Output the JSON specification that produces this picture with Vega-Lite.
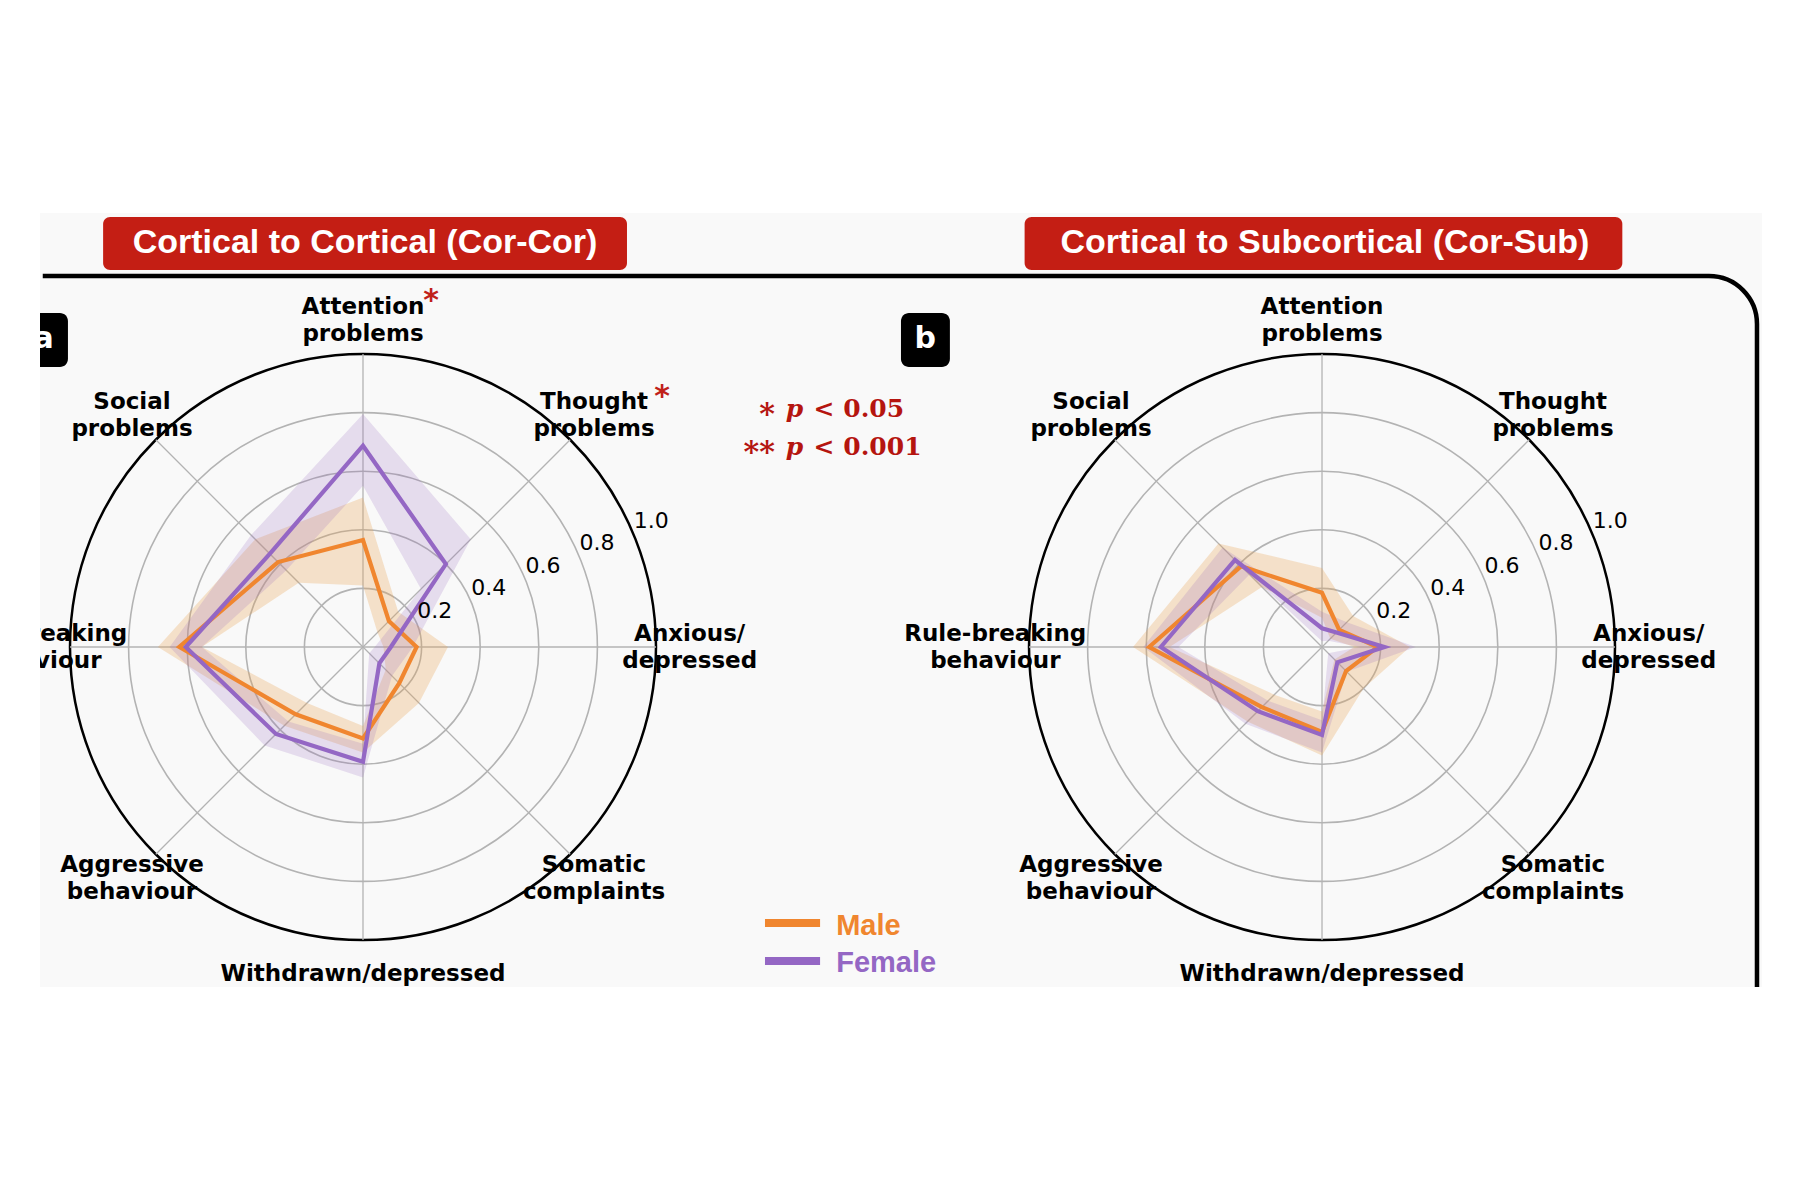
{
  "$schema": "https://vega.github.io/schema/vega-lite/v6.json",
  "description": "Radar charts of CBCL syndrome scales, male vs female, Cor-Cor and Cor-Sub",
  "background": "white",
  "padding": {"left": 40, "top": 0, "right": 0, "bottom": 10},
  "autosize": {"type": "pad"},
  "spacing": 0,
  "bounds": "flush",
  "datasets": {
    "corcor": [
      {"sex": "Male", "axis": "Anxious/depressed", "value": 0.183, "lo": 0.07, "hi": 0.29},
      {"sex": "Male", "axis": "Thought problems", "value": 0.125, "lo": 0.07, "hi": 0.17},
      {"sex": "Male", "axis": "Attention problems", "value": 0.365, "lo": 0.21, "hi": 0.51},
      {"sex": "Male", "axis": "Social problems", "value": 0.41, "lo": 0.31, "hi": 0.52},
      {"sex": "Male", "axis": "Rule-breaking behaviour", "value": 0.627, "lo": 0.55, "hi": 0.7},
      {"sex": "Male", "axis": "Aggressive behaviour", "value": 0.325, "lo": 0.27, "hi": 0.38},
      {"sex": "Male", "axis": "Withdrawn/depressed", "value": 0.312, "lo": 0.27, "hi": 0.36},
      {"sex": "Male", "axis": "Somatic complaints", "value": 0.175, "lo": 0.11, "hi": 0.27},
      {"sex": "Female", "axis": "Anxious/depressed", "value": 0.095, "lo": 0.04, "hi": 0.17},
      {"sex": "Female", "axis": "Thought problems", "value": 0.4, "lo": 0.28, "hi": 0.52},
      {"sex": "Female", "axis": "Attention problems", "value": 0.687, "lo": 0.55, "hi": 0.795},
      {"sex": "Female", "axis": "Social problems", "value": 0.45, "lo": 0.37, "hi": 0.54},
      {"sex": "Female", "axis": "Rule-breaking behaviour", "value": 0.605, "lo": 0.55, "hi": 0.66},
      {"sex": "Female", "axis": "Aggressive behaviour", "value": 0.42, "lo": 0.36, "hi": 0.475},
      {"sex": "Female", "axis": "Withdrawn/depressed", "value": 0.392, "lo": 0.33, "hi": 0.445},
      {"sex": "Female", "axis": "Somatic complaints", "value": 0.079, "lo": 0.03, "hi": 0.14}
    ],
    "corsub": [
      {"sex": "Male", "axis": "Anxious/depressed", "value": 0.19, "lo": 0.11, "hi": 0.3},
      {"sex": "Male", "axis": "Thought problems", "value": 0.083, "lo": 0.04, "hi": 0.15},
      {"sex": "Male", "axis": "Attention problems", "value": 0.185, "lo": 0.1, "hi": 0.27},
      {"sex": "Male", "axis": "Social problems", "value": 0.39, "lo": 0.29, "hi": 0.5},
      {"sex": "Male", "axis": "Rule-breaking behaviour", "value": 0.59, "lo": 0.52, "hi": 0.645},
      {"sex": "Male", "axis": "Aggressive behaviour", "value": 0.29, "lo": 0.23, "hi": 0.36},
      {"sex": "Male", "axis": "Withdrawn/depressed", "value": 0.29, "lo": 0.22, "hi": 0.37},
      {"sex": "Male", "axis": "Somatic complaints", "value": 0.116, "lo": 0.06, "hi": 0.2},
      {"sex": "Female", "axis": "Anxious/depressed", "value": 0.213, "lo": 0.13, "hi": 0.32},
      {"sex": "Female", "axis": "Thought problems", "value": 0.07, "lo": 0.03, "hi": 0.12},
      {"sex": "Female", "axis": "Attention problems", "value": 0.064, "lo": 0.02, "hi": 0.12},
      {"sex": "Female", "axis": "Social problems", "value": 0.42, "lo": 0.35, "hi": 0.48},
      {"sex": "Female", "axis": "Rule-breaking behaviour", "value": 0.55, "lo": 0.49, "hi": 0.61},
      {"sex": "Female", "axis": "Aggressive behaviour", "value": 0.31, "lo": 0.26, "hi": 0.37},
      {"sex": "Female", "axis": "Withdrawn/depressed", "value": 0.3, "lo": 0.25, "hi": 0.36},
      {"sex": "Female", "axis": "Somatic complaints", "value": 0.074, "lo": 0.03, "hi": 0.12}
    ],
    "axes": [
      {"axis": "Anxious/depressed", "label": "Anxious/\ndepressed"},
      {"axis": "Thought problems", "label": "Thought\nproblems"},
      {"axis": "Attention problems", "label": "Attention\nproblems"},
      {"axis": "Social problems", "label": "Social\nproblems"},
      {"axis": "Rule-breaking behaviour", "label": "Rule-breaking\nbehaviour"},
      {"axis": "Aggressive behaviour", "label": "Aggressive\nbehaviour"},
      {"axis": "Withdrawn/depressed", "label": "Withdrawn/depressed"},
      {"axis": "Somatic complaints", "label": "Somatic\ncomplaints"}
    ],
    "sig": [
      {"axis": "Attention problems", "stars": "*"},
      {"axis": "Thought problems", "stars": "*"}
    ],
    "rings": [
      {"r": 0.2, "label": "0.2"},
      {"r": 0.4, "label": "0.4"},
      {"r": 0.6, "label": "0.6"},
      {"r": 0.8, "label": "0.8"},
      {"r": 1.0, "label": "1.0"}
    ],
    "notes": [
      {"id": "titleL", "text": "Cortical to Cortical (Cor-Cor)"},
      {"id": "titleR", "text": "Cortical to Subcortical (Cor-Sub)"},
      {"id": "panelL", "text": "a"},
      {"id": "panelR", "text": "b"},
      {"id": "stars", "text": "*\n**"},
      {"id": "p", "text": "p\np"},
      {"id": "thr", "text": "< 0.05\n< 0.001"},
      {"id": "Male", "text": "Male"},
      {"id": "Female", "text": "Female"}
    ]
  },
  "hconcat": [
    {
      "width": 860,
      "height": 987,
      "layer": [
        {
          "data": {"name": "notes"},
          "transform": [{"filter": "datum.id == 'titleL'"}],
          "mark": {"type": "rect", "fill": "#f9f9f9"},
          "encoding": {
            "x": {"datum": -1.1024, "type": "quantitative", "scale": {"domain": [-1.1024, 1.8328], "nice": false, "zero": false}, "axis": null},
            "x2": {"datum": 4.775},
            "y": {"datum": 1.481, "type": "quantitative", "scale": {"domain": [-1.1604, 2.2082], "nice": false, "zero": false}, "axis": null},
            "y2": {"datum": -1.1604}
          }
        },
        {
          "data": {"name": "notes"},
          "transform": [{"filter": "datum.id == 'titleL'"}],
          "mark": {"type": "rule", "color": "black", "strokeWidth": 4.5},
          "encoding": {
            "x": {"datum": -1.093, "type": "quantitative", "scale": {"domain": [-1.1024, 1.8328], "nice": false, "zero": false}, "axis": null},
            "x2": {"datum": 1.8328},
            "y": {"datum": 1.266, "type": "quantitative", "scale": {"domain": [-1.1604, 2.2082], "nice": false, "zero": false}, "axis": null}
          }
        },
        {
          "data": {"name": "notes"},
          "transform": [{"filter": "datum.id == 'titleL'"}],
          "mark": {"type": "rect", "fill": "#c41e14", "cornerRadius": 7},
          "encoding": {
            "x": {"datum": -0.887, "type": "quantitative", "scale": {"domain": [-1.1024, 1.8328], "nice": false, "zero": false}, "axis": null},
            "x2": {"datum": 0.901},
            "y": {"datum": 1.468, "type": "quantitative", "scale": {"domain": [-1.1604, 2.2082], "nice": false, "zero": false}, "axis": null},
            "y2": {"datum": 1.287}
          }
        },
        {
          "data": {"name": "notes"},
          "transform": [{"filter": "datum.id == 'titleL'"}],
          "mark": {"type": "text", "font": "Liberation Sans", "fontWeight": "bold", "fontSize": 34, "color": "white", "align": "center", "baseline": "middle"},
          "encoding": {
            "x": {"datum": 0.007, "type": "quantitative", "scale": {"domain": [-1.1024, 1.8328], "nice": false, "zero": false}, "axis": null},
            "y": {"datum": 1.38, "type": "quantitative", "scale": {"domain": [-1.1604, 2.2082], "nice": false, "zero": false}, "axis": null},
            "text": {"field": "text"}
          }
        },
        {
          "data": {"name": "notes"},
          "transform": [{"filter": "datum.id == 'panelL'"}],
          "mark": {"type": "rect", "fill": "black", "cornerRadius": 8, "clip": true},
          "encoding": {
            "x": {"datum": -1.174, "type": "quantitative", "scale": {"domain": [-1.1024, 1.8328], "nice": false, "zero": false}, "axis": null},
            "x2": {"datum": -1.007},
            "y": {"datum": 1.14, "type": "quantitative", "scale": {"domain": [-1.1604, 2.2082], "nice": false, "zero": false}, "axis": null},
            "y2": {"datum": 0.956}
          }
        },
        {
          "data": {"name": "notes"},
          "transform": [{"filter": "datum.id == 'panelL'"}],
          "mark": {"type": "text", "font": "DejaVu Sans", "fontWeight": "bold", "fontSize": 30, "color": "white", "align": "center", "baseline": "middle", "clip": true},
          "encoding": {
            "x": {"datum": -1.09, "type": "quantitative", "scale": {"domain": [-1.1024, 1.8328], "nice": false, "zero": false}, "axis": null},
            "y": {"datum": 1.05, "type": "quantitative", "scale": {"domain": [-1.1604, 2.2082], "nice": false, "zero": false}, "axis": null},
            "text": {"field": "text"}
          }
        },
        {
          "data": {"name": "axes"},
          "transform": [
            {"calculate": "indexof(['Anxious/depressed', 'Thought problems', 'Attention problems', 'Social problems', 'Rule-breaking behaviour', 'Aggressive behaviour', 'Withdrawn/depressed', 'Somatic complaints'], datum.axis)", "as": "i"},
            {"calculate": "1.115 * cos(datum.i * PI / 4)", "as": "px"},
            {"calculate": "1.115 * sin(datum.i * PI / 4)", "as": "py"},
            {"filter": "datum.axis != 'Withdrawn/depressed'"}
          ],
          "mark": {"type": "text", "font": "DejaVu Sans", "fontWeight": "bold", "fontSize": 23, "lineBreak": "\n", "lineHeight": 27, "align": "center", "baseline": "middle", "color": "black", "dy": -13.5, "clip": true},
          "encoding": {
            "x": {"field": "px", "type": "quantitative", "scale": {"domain": [-1.1024, 1.8328], "nice": false, "zero": false}, "axis": null},
            "y": {"field": "py", "type": "quantitative", "scale": {"domain": [-1.1604, 2.2082], "nice": false, "zero": false}, "axis": null},
            "text": {"field": "label"}
          }
        },
        {
          "data": {"name": "axes"},
          "transform": [
            {"calculate": "indexof(['Anxious/depressed', 'Thought problems', 'Attention problems', 'Social problems', 'Rule-breaking behaviour', 'Aggressive behaviour', 'Withdrawn/depressed', 'Somatic complaints'], datum.axis)", "as": "i"},
            {"calculate": "1.115 * cos(datum.i * PI / 4)", "as": "px"},
            {"calculate": "1.115 * sin(datum.i * PI / 4)", "as": "py"},
            {"filter": "datum.axis == 'Withdrawn/depressed'"}
          ],
          "mark": {"type": "text", "font": "DejaVu Sans", "fontWeight": "bold", "fontSize": 23, "align": "center", "baseline": "middle", "color": "black"},
          "encoding": {
            "x": {"field": "px", "type": "quantitative", "scale": {"domain": [-1.1024, 1.8328], "nice": false, "zero": false}, "axis": null},
            "y": {"field": "py", "type": "quantitative", "scale": {"domain": [-1.1604, 2.2082], "nice": false, "zero": false}, "axis": null},
            "text": {"field": "label"}
          }
        },
        {
          "data": {"name": "sig"},
          "transform": [
            {"calculate": "indexof(['Anxious/depressed', 'Thought problems', 'Attention problems', 'Social problems', 'Rule-breaking behaviour', 'Aggressive behaviour', 'Withdrawn/depressed', 'Somatic complaints'], datum.axis)", "as": "i"},
            {"calculate": "1.115 * cos(datum.i * PI / 4)", "as": "px"},
            {"calculate": "1.115 * sin(datum.i * PI / 4)", "as": "py"}
          ],
          "mark": {"type": "text", "font": "DejaVu Sans", "fontWeight": "bold", "fontSize": 30, "align": "center", "baseline": "middle", "color": "#c0201a", "dx": 68, "dy": -19},
          "encoding": {
            "x": {"field": "px", "type": "quantitative", "scale": {"domain": [-1.1024, 1.8328], "nice": false, "zero": false}, "axis": null},
            "y": {"field": "py", "type": "quantitative", "scale": {"domain": [-1.1604, 2.2082], "nice": false, "zero": false}, "axis": null},
            "text": {"field": "stars"}
          }
        },
        {
          "data": {"name": "rings"},
          "transform": [{"calculate": "0", "as": "cx"}],
          "mark": {"type": "point", "shape": "circle", "filled": false, "opacity": 1},
          "encoding": {
            "x": {"field": "cx", "type": "quantitative", "scale": {"domain": [-1.1024, 1.8328], "nice": false, "zero": false}, "axis": null},
            "y": {"field": "cx", "type": "quantitative", "scale": {"domain": [-1.1604, 2.2082], "nice": false, "zero": false}, "axis": null},
            "size": {"field": "r", "type": "quantitative", "scale": {"type": "pow", "exponent": 2, "domain": [0, 1], "range": [0, 343396]}, "legend": null},
            "stroke": {"condition": {"test": "datum.r == 1", "value": "black"}, "value": "#b3b3b3"},
            "strokeWidth": {"condition": {"test": "datum.r == 1", "value": 2.5}, "value": 1.6}
          }
        },
        {
          "data": {"name": "axes"},
          "transform": [
            {"calculate": "indexof(['Anxious/depressed', 'Thought problems', 'Attention problems', 'Social problems', 'Rule-breaking behaviour', 'Aggressive behaviour', 'Withdrawn/depressed', 'Somatic complaints'], datum.axis)", "as": "i"},
            {"calculate": "cos(datum.i * PI / 4)", "as": "px"},
            {"calculate": "sin(datum.i * PI / 4)", "as": "py"},
            {"calculate": "0", "as": "cx"}
          ],
          "mark": {"type": "rule", "color": "#b3b3b3", "strokeWidth": 1.3},
          "encoding": {
            "x": {"field": "cx", "type": "quantitative", "scale": {"domain": [-1.1024, 1.8328], "nice": false, "zero": false}, "axis": null},
            "y": {"field": "cx", "type": "quantitative", "scale": {"domain": [-1.1604, 2.2082], "nice": false, "zero": false}, "axis": null},
            "x2": {"field": "px"},
            "y2": {"field": "py"}
          }
        },
        {
          "data": {"name": "corcor"},
          "transform": [
            {"filter": "datum.sex == 'Male'"},
            {"calculate": "indexof(['Anxious/depressed', 'Thought problems', 'Attention problems', 'Social problems', 'Rule-breaking behaviour', 'Aggressive behaviour', 'Withdrawn/depressed', 'Somatic complaints'], datum.axis)", "as": "i"},
            {"calculate": "datum.i == 0 ? [0, 8] : [datum.i]", "as": "k"},
            {"flatten": ["k"]},
            {"fold": ["lo", "hi"], "as": ["bound", "r"]},
            {"calculate": "datum.bound == 'hi' ? datum.k : 17 - datum.k", "as": "ord"},
            {"calculate": "datum.r * cos(datum.k * PI / 4)", "as": "px"},
            {"calculate": "datum.r * sin(datum.k * PI / 4)", "as": "py"}
          ],
          "mark": {"type": "line", "interpolate": "linear-closed", "fill": "#e9a24f", "fillOpacity": 0.28, "strokeWidth": 0},
          "encoding": {
            "x": {"field": "px", "type": "quantitative", "scale": {"domain": [-1.1024, 1.8328], "nice": false, "zero": false}, "axis": null},
            "y": {"field": "py", "type": "quantitative", "scale": {"domain": [-1.1604, 2.2082], "nice": false, "zero": false}, "axis": null},
            "order": {"field": "ord", "type": "quantitative"}
          }
        },
        {
          "data": {"name": "corcor"},
          "transform": [
            {"filter": "datum.sex == 'Female'"},
            {"calculate": "indexof(['Anxious/depressed', 'Thought problems', 'Attention problems', 'Social problems', 'Rule-breaking behaviour', 'Aggressive behaviour', 'Withdrawn/depressed', 'Somatic complaints'], datum.axis)", "as": "i"},
            {"calculate": "datum.i == 0 ? [0, 8] : [datum.i]", "as": "k"},
            {"flatten": ["k"]},
            {"fold": ["lo", "hi"], "as": ["bound", "r"]},
            {"calculate": "datum.bound == 'hi' ? datum.k : 17 - datum.k", "as": "ord"},
            {"calculate": "datum.r * cos(datum.k * PI / 4)", "as": "px"},
            {"calculate": "datum.r * sin(datum.k * PI / 4)", "as": "py"}
          ],
          "mark": {"type": "line", "interpolate": "linear-closed", "fill": "#9467bd", "fillOpacity": 0.2, "strokeWidth": 0},
          "encoding": {
            "x": {"field": "px", "type": "quantitative", "scale": {"domain": [-1.1024, 1.8328], "nice": false, "zero": false}, "axis": null},
            "y": {"field": "py", "type": "quantitative", "scale": {"domain": [-1.1604, 2.2082], "nice": false, "zero": false}, "axis": null},
            "order": {"field": "ord", "type": "quantitative"}
          }
        },
        {
          "data": {"name": "corcor"},
          "transform": [
            {"filter": "datum.sex == 'Male'"},
            {"calculate": "indexof(['Anxious/depressed', 'Thought problems', 'Attention problems', 'Social problems', 'Rule-breaking behaviour', 'Aggressive behaviour', 'Withdrawn/depressed', 'Somatic complaints'], datum.axis)", "as": "i"},
            {"calculate": "datum.value * cos(datum.i * PI / 4)", "as": "px"},
            {"calculate": "datum.value * sin(datum.i * PI / 4)", "as": "py"}
          ],
          "mark": {"type": "line", "interpolate": "linear-closed", "color": "#f0862f", "strokeWidth": 4.2},
          "encoding": {
            "x": {"field": "px", "type": "quantitative", "scale": {"domain": [-1.1024, 1.8328], "nice": false, "zero": false}, "axis": null},
            "y": {"field": "py", "type": "quantitative", "scale": {"domain": [-1.1604, 2.2082], "nice": false, "zero": false}, "axis": null},
            "order": {"field": "i", "type": "quantitative"}
          }
        },
        {
          "data": {"name": "corcor"},
          "transform": [
            {"filter": "datum.sex == 'Female'"},
            {"calculate": "indexof(['Anxious/depressed', 'Thought problems', 'Attention problems', 'Social problems', 'Rule-breaking behaviour', 'Aggressive behaviour', 'Withdrawn/depressed', 'Somatic complaints'], datum.axis)", "as": "i"},
            {"calculate": "datum.value * cos(datum.i * PI / 4)", "as": "px"},
            {"calculate": "datum.value * sin(datum.i * PI / 4)", "as": "py"}
          ],
          "mark": {"type": "line", "interpolate": "linear-closed", "color": "#9467c4", "strokeWidth": 4.2},
          "encoding": {
            "x": {"field": "px", "type": "quantitative", "scale": {"domain": [-1.1024, 1.8328], "nice": false, "zero": false}, "axis": null},
            "y": {"field": "py", "type": "quantitative", "scale": {"domain": [-1.1604, 2.2082], "nice": false, "zero": false}, "axis": null},
            "order": {"field": "i", "type": "quantitative"}
          }
        },
        {
          "data": {"name": "rings"},
          "transform": [
            {"calculate": "datum.r * cos(PI / 8)", "as": "px"},
            {"calculate": "datum.r * sin(PI / 8)", "as": "py"}
          ],
          "mark": {"type": "text", "font": "DejaVu Sans", "fontSize": 22, "align": "left", "baseline": "alphabetic", "dx": 0, "dy": -7, "color": "black"},
          "encoding": {
            "x": {"field": "px", "type": "quantitative", "scale": {"domain": [-1.1024, 1.8328], "nice": false, "zero": false}, "axis": null},
            "y": {"field": "py", "type": "quantitative", "scale": {"domain": [-1.1604, 2.2082], "nice": false, "zero": false}, "axis": null},
            "text": {"field": "label"}
          }
        },
        {
          "data": {"name": "notes"},
          "transform": [{"filter": "datum.id == 'stars'"}],
          "mark": {"type": "text", "lineBreak": "\n", "lineHeight": 38, "font": "DejaVu Serif", "fontWeight": "bold", "fontSize": 30, "align": "right", "baseline": "alphabetic", "color": "#b5150f", "dy": 7},
          "encoding": {
            "x": {"datum": 1.406, "type": "quantitative", "scale": {"domain": [-1.1024, 1.8328], "nice": false, "zero": false}, "axis": null},
            "y": {"datum": 0.785, "type": "quantitative", "scale": {"domain": [-1.1604, 2.2082], "nice": false, "zero": false}, "axis": null},
            "text": {"field": "text"}
          }
        },
        {
          "data": {"name": "notes"},
          "transform": [{"filter": "datum.id == 'p'"}],
          "mark": {"type": "text", "lineBreak": "\n", "lineHeight": 38, "font": "DejaVu Serif", "fontWeight": "bold", "fontStyle": "italic", "fontSize": 25, "align": "left", "baseline": "alphabetic", "color": "#b5150f"},
          "encoding": {
            "x": {"datum": 1.443, "type": "quantitative", "scale": {"domain": [-1.1024, 1.8328], "nice": false, "zero": false}, "axis": null},
            "y": {"datum": 0.785, "type": "quantitative", "scale": {"domain": [-1.1604, 2.2082], "nice": false, "zero": false}, "axis": null},
            "text": {"field": "text"}
          }
        },
        {
          "data": {"name": "notes"},
          "transform": [{"filter": "datum.id == 'thr'"}],
          "mark": {"type": "text", "lineBreak": "\n", "lineHeight": 38, "font": "DejaVu Serif", "fontWeight": "bold", "fontSize": 25, "align": "left", "baseline": "alphabetic", "color": "#b5150f"},
          "encoding": {
            "x": {"datum": 1.538, "type": "quantitative", "scale": {"domain": [-1.1024, 1.8328], "nice": false, "zero": false}, "axis": null},
            "y": {"datum": 0.785, "type": "quantitative", "scale": {"domain": [-1.1604, 2.2082], "nice": false, "zero": false}, "axis": null},
            "text": {"field": "text"}
          }
        },
        {
          "data": {"name": "notes"},
          "transform": [{"filter": "datum.id == 'Male'"}],
          "mark": {"type": "rule", "color": "#f0862f", "strokeWidth": 8},
          "encoding": {
            "x": {"datum": 1.372, "type": "quantitative", "scale": {"domain": [-1.1024, 1.8328], "nice": false, "zero": false}, "axis": null},
            "x2": {"datum": 1.56},
            "y": {"datum": -0.942, "type": "quantitative", "scale": {"domain": [-1.1604, 2.2082], "nice": false, "zero": false}, "axis": null}
          }
        },
        {
          "data": {"name": "notes"},
          "transform": [{"filter": "datum.id == 'Female'"}],
          "mark": {"type": "rule", "color": "#9467c4", "strokeWidth": 8},
          "encoding": {
            "x": {"datum": 1.372, "type": "quantitative", "scale": {"domain": [-1.1024, 1.8328], "nice": false, "zero": false}, "axis": null},
            "x2": {"datum": 1.56},
            "y": {"datum": -1.072, "type": "quantitative", "scale": {"domain": [-1.1604, 2.2082], "nice": false, "zero": false}, "axis": null}
          }
        },
        {
          "data": {"name": "notes"},
          "transform": [{"filter": "datum.id == 'Male'"}],
          "mark": {"type": "text", "font": "Liberation Sans", "fontWeight": "bold", "fontSize": 29, "align": "left", "baseline": "alphabetic", "color": "#f0862f"},
          "encoding": {
            "x": {"datum": 1.615, "type": "quantitative", "scale": {"domain": [-1.1024, 1.8328], "nice": false, "zero": false}, "axis": null},
            "y": {"datum": -0.983, "type": "quantitative", "scale": {"domain": [-1.1604, 2.2082], "nice": false, "zero": false}, "axis": null},
            "text": {"field": "text"}
          }
        },
        {
          "data": {"name": "notes"},
          "transform": [{"filter": "datum.id == 'Female'"}],
          "mark": {"type": "text", "font": "Liberation Sans", "fontWeight": "bold", "fontSize": 29, "align": "left", "baseline": "alphabetic", "color": "#9467c4"},
          "encoding": {
            "x": {"datum": 1.615, "type": "quantitative", "scale": {"domain": [-1.1024, 1.8328], "nice": false, "zero": false}, "axis": null},
            "y": {"datum": -1.109, "type": "quantitative", "scale": {"domain": [-1.1604, 2.2082], "nice": false, "zero": false}, "axis": null},
            "text": {"field": "text"}
          }
        }
      ]
    },
    {
      "width": 900,
      "height": 987,
      "layer": [
        {
          "data": {"name": "notes"},
          "transform": [{"filter": "datum.id == 'titleR'"}],
          "mark": {"type": "rect", "filled": false, "stroke": "black", "strokeWidth": 4.5, "cornerRadius": 48, "clip": true},
          "encoding": {
            "x": {"datum": -2, "type": "quantitative", "scale": {"domain": [-1.4403, 1.6314], "nice": false, "zero": false}, "axis": null},
            "x2": {"datum": 1.4846},
            "y": {"datum": 1.266, "type": "quantitative", "scale": {"domain": [-1.1604, 2.2082], "nice": false, "zero": false}, "axis": null},
            "y2": {"datum": -2}
          }
        },
        {
          "data": {"name": "notes"},
          "transform": [{"filter": "datum.id == 'titleR'"}],
          "mark": {"type": "rect", "fill": "#c41e14", "cornerRadius": 7},
          "encoding": {
            "x": {"datum": -1.015, "type": "quantitative", "scale": {"domain": [-1.4403, 1.6314], "nice": false, "zero": false}, "axis": null},
            "x2": {"datum": 1.025},
            "y": {"datum": 1.468, "type": "quantitative", "scale": {"domain": [-1.1604, 2.2082], "nice": false, "zero": false}, "axis": null},
            "y2": {"datum": 1.287}
          }
        },
        {
          "data": {"name": "notes"},
          "transform": [{"filter": "datum.id == 'titleR'"}],
          "mark": {"type": "text", "font": "Liberation Sans", "fontWeight": "bold", "fontSize": 34, "color": "white", "align": "center", "baseline": "middle"},
          "encoding": {
            "x": {"datum": 0.01, "type": "quantitative", "scale": {"domain": [-1.4403, 1.6314], "nice": false, "zero": false}, "axis": null},
            "y": {"datum": 1.38, "type": "quantitative", "scale": {"domain": [-1.1604, 2.2082], "nice": false, "zero": false}, "axis": null},
            "text": {"field": "text"}
          }
        },
        {
          "data": {"name": "notes"},
          "transform": [{"filter": "datum.id == 'panelR'"}],
          "mark": {"type": "rect", "fill": "black", "cornerRadius": 8},
          "encoding": {
            "x": {"datum": -1.437, "type": "quantitative", "scale": {"domain": [-1.4403, 1.6314], "nice": false, "zero": false}, "axis": null},
            "x2": {"datum": -1.27},
            "y": {"datum": 1.14, "type": "quantitative", "scale": {"domain": [-1.1604, 2.2082], "nice": false, "zero": false}, "axis": null},
            "y2": {"datum": 0.956}
          }
        },
        {
          "data": {"name": "notes"},
          "transform": [{"filter": "datum.id == 'panelR'"}],
          "mark": {"type": "text", "font": "DejaVu Sans", "fontWeight": "bold", "fontSize": 30, "color": "white", "align": "center", "baseline": "middle"},
          "encoding": {
            "x": {"datum": -1.354, "type": "quantitative", "scale": {"domain": [-1.4403, 1.6314], "nice": false, "zero": false}, "axis": null},
            "y": {"datum": 1.05, "type": "quantitative", "scale": {"domain": [-1.1604, 2.2082], "nice": false, "zero": false}, "axis": null},
            "text": {"field": "text"}
          }
        },
        {
          "data": {"name": "axes"},
          "transform": [
            {"calculate": "indexof(['Anxious/depressed', 'Thought problems', 'Attention problems', 'Social problems', 'Rule-breaking behaviour', 'Aggressive behaviour', 'Withdrawn/depressed', 'Somatic complaints'], datum.axis)", "as": "i"},
            {"calculate": "1.115 * cos(datum.i * PI / 4)", "as": "px"},
            {"calculate": "1.115 * sin(datum.i * PI / 4)", "as": "py"},
            {"filter": "datum.axis != 'Withdrawn/depressed'"}
          ],
          "mark": {"type": "text", "font": "DejaVu Sans", "fontWeight": "bold", "fontSize": 23, "lineBreak": "\n", "lineHeight": 27, "align": "center", "baseline": "middle", "color": "black", "dy": -13.5},
          "encoding": {
            "x": {"field": "px", "type": "quantitative", "scale": {"domain": [-1.4403, 1.6314], "nice": false, "zero": false}, "axis": null},
            "y": {"field": "py", "type": "quantitative", "scale": {"domain": [-1.1604, 2.2082], "nice": false, "zero": false}, "axis": null},
            "text": {"field": "label"}
          }
        },
        {
          "data": {"name": "axes"},
          "transform": [
            {"calculate": "indexof(['Anxious/depressed', 'Thought problems', 'Attention problems', 'Social problems', 'Rule-breaking behaviour', 'Aggressive behaviour', 'Withdrawn/depressed', 'Somatic complaints'], datum.axis)", "as": "i"},
            {"calculate": "1.115 * cos(datum.i * PI / 4)", "as": "px"},
            {"calculate": "1.115 * sin(datum.i * PI / 4)", "as": "py"},
            {"filter": "datum.axis == 'Withdrawn/depressed'"}
          ],
          "mark": {"type": "text", "font": "DejaVu Sans", "fontWeight": "bold", "fontSize": 23, "align": "center", "baseline": "middle", "color": "black"},
          "encoding": {
            "x": {"field": "px", "type": "quantitative", "scale": {"domain": [-1.4403, 1.6314], "nice": false, "zero": false}, "axis": null},
            "y": {"field": "py", "type": "quantitative", "scale": {"domain": [-1.1604, 2.2082], "nice": false, "zero": false}, "axis": null},
            "text": {"field": "label"}
          }
        },
        {
          "data": {"name": "rings"},
          "transform": [{"calculate": "0", "as": "cx"}],
          "mark": {"type": "point", "shape": "circle", "filled": false, "opacity": 1},
          "encoding": {
            "x": {"field": "cx", "type": "quantitative", "scale": {"domain": [-1.4403, 1.6314], "nice": false, "zero": false}, "axis": null},
            "y": {"field": "cx", "type": "quantitative", "scale": {"domain": [-1.1604, 2.2082], "nice": false, "zero": false}, "axis": null},
            "size": {"field": "r", "type": "quantitative", "scale": {"type": "pow", "exponent": 2, "domain": [0, 1], "range": [0, 343396]}, "legend": null},
            "stroke": {"condition": {"test": "datum.r == 1", "value": "black"}, "value": "#b3b3b3"},
            "strokeWidth": {"condition": {"test": "datum.r == 1", "value": 2.5}, "value": 1.6}
          }
        },
        {
          "data": {"name": "axes"},
          "transform": [
            {"calculate": "indexof(['Anxious/depressed', 'Thought problems', 'Attention problems', 'Social problems', 'Rule-breaking behaviour', 'Aggressive behaviour', 'Withdrawn/depressed', 'Somatic complaints'], datum.axis)", "as": "i"},
            {"calculate": "cos(datum.i * PI / 4)", "as": "px"},
            {"calculate": "sin(datum.i * PI / 4)", "as": "py"},
            {"calculate": "0", "as": "cx"}
          ],
          "mark": {"type": "rule", "color": "#b3b3b3", "strokeWidth": 1.3},
          "encoding": {
            "x": {"field": "cx", "type": "quantitative", "scale": {"domain": [-1.4403, 1.6314], "nice": false, "zero": false}, "axis": null},
            "y": {"field": "cx", "type": "quantitative", "scale": {"domain": [-1.1604, 2.2082], "nice": false, "zero": false}, "axis": null},
            "x2": {"field": "px"},
            "y2": {"field": "py"}
          }
        },
        {
          "data": {"name": "corsub"},
          "transform": [
            {"filter": "datum.sex == 'Male'"},
            {"calculate": "indexof(['Anxious/depressed', 'Thought problems', 'Attention problems', 'Social problems', 'Rule-breaking behaviour', 'Aggressive behaviour', 'Withdrawn/depressed', 'Somatic complaints'], datum.axis)", "as": "i"},
            {"calculate": "datum.i == 0 ? [0, 8] : [datum.i]", "as": "k"},
            {"flatten": ["k"]},
            {"fold": ["lo", "hi"], "as": ["bound", "r"]},
            {"calculate": "datum.bound == 'hi' ? datum.k : 17 - datum.k", "as": "ord"},
            {"calculate": "datum.r * cos(datum.k * PI / 4)", "as": "px"},
            {"calculate": "datum.r * sin(datum.k * PI / 4)", "as": "py"}
          ],
          "mark": {"type": "line", "interpolate": "linear-closed", "fill": "#e9a24f", "fillOpacity": 0.28, "strokeWidth": 0},
          "encoding": {
            "x": {"field": "px", "type": "quantitative", "scale": {"domain": [-1.4403, 1.6314], "nice": false, "zero": false}, "axis": null},
            "y": {"field": "py", "type": "quantitative", "scale": {"domain": [-1.1604, 2.2082], "nice": false, "zero": false}, "axis": null},
            "order": {"field": "ord", "type": "quantitative"}
          }
        },
        {
          "data": {"name": "corsub"},
          "transform": [
            {"filter": "datum.sex == 'Female'"},
            {"calculate": "indexof(['Anxious/depressed', 'Thought problems', 'Attention problems', 'Social problems', 'Rule-breaking behaviour', 'Aggressive behaviour', 'Withdrawn/depressed', 'Somatic complaints'], datum.axis)", "as": "i"},
            {"calculate": "datum.i == 0 ? [0, 8] : [datum.i]", "as": "k"},
            {"flatten": ["k"]},
            {"fold": ["lo", "hi"], "as": ["bound", "r"]},
            {"calculate": "datum.bound == 'hi' ? datum.k : 17 - datum.k", "as": "ord"},
            {"calculate": "datum.r * cos(datum.k * PI / 4)", "as": "px"},
            {"calculate": "datum.r * sin(datum.k * PI / 4)", "as": "py"}
          ],
          "mark": {"type": "line", "interpolate": "linear-closed", "fill": "#9467bd", "fillOpacity": 0.2, "strokeWidth": 0},
          "encoding": {
            "x": {"field": "px", "type": "quantitative", "scale": {"domain": [-1.4403, 1.6314], "nice": false, "zero": false}, "axis": null},
            "y": {"field": "py", "type": "quantitative", "scale": {"domain": [-1.1604, 2.2082], "nice": false, "zero": false}, "axis": null},
            "order": {"field": "ord", "type": "quantitative"}
          }
        },
        {
          "data": {"name": "corsub"},
          "transform": [
            {"filter": "datum.sex == 'Male'"},
            {"calculate": "indexof(['Anxious/depressed', 'Thought problems', 'Attention problems', 'Social problems', 'Rule-breaking behaviour', 'Aggressive behaviour', 'Withdrawn/depressed', 'Somatic complaints'], datum.axis)", "as": "i"},
            {"calculate": "datum.value * cos(datum.i * PI / 4)", "as": "px"},
            {"calculate": "datum.value * sin(datum.i * PI / 4)", "as": "py"}
          ],
          "mark": {"type": "line", "interpolate": "linear-closed", "color": "#f0862f", "strokeWidth": 4.2},
          "encoding": {
            "x": {"field": "px", "type": "quantitative", "scale": {"domain": [-1.4403, 1.6314], "nice": false, "zero": false}, "axis": null},
            "y": {"field": "py", "type": "quantitative", "scale": {"domain": [-1.1604, 2.2082], "nice": false, "zero": false}, "axis": null},
            "order": {"field": "i", "type": "quantitative"}
          }
        },
        {
          "data": {"name": "corsub"},
          "transform": [
            {"filter": "datum.sex == 'Female'"},
            {"calculate": "indexof(['Anxious/depressed', 'Thought problems', 'Attention problems', 'Social problems', 'Rule-breaking behaviour', 'Aggressive behaviour', 'Withdrawn/depressed', 'Somatic complaints'], datum.axis)", "as": "i"},
            {"calculate": "datum.value * cos(datum.i * PI / 4)", "as": "px"},
            {"calculate": "datum.value * sin(datum.i * PI / 4)", "as": "py"}
          ],
          "mark": {"type": "line", "interpolate": "linear-closed", "color": "#9467c4", "strokeWidth": 4.2},
          "encoding": {
            "x": {"field": "px", "type": "quantitative", "scale": {"domain": [-1.4403, 1.6314], "nice": false, "zero": false}, "axis": null},
            "y": {"field": "py", "type": "quantitative", "scale": {"domain": [-1.1604, 2.2082], "nice": false, "zero": false}, "axis": null},
            "order": {"field": "i", "type": "quantitative"}
          }
        },
        {
          "data": {"name": "rings"},
          "transform": [
            {"calculate": "datum.r * cos(PI / 8)", "as": "px"},
            {"calculate": "datum.r * sin(PI / 8)", "as": "py"}
          ],
          "mark": {"type": "text", "font": "DejaVu Sans", "fontSize": 22, "align": "left", "baseline": "alphabetic", "dx": 0, "dy": -7, "color": "black"},
          "encoding": {
            "x": {"field": "px", "type": "quantitative", "scale": {"domain": [-1.4403, 1.6314], "nice": false, "zero": false}, "axis": null},
            "y": {"field": "py", "type": "quantitative", "scale": {"domain": [-1.1604, 2.2082], "nice": false, "zero": false}, "axis": null},
            "text": {"field": "label"}
          }
        }
      ]
    }
  ],
  "resolve": {"scale": {"x": "independent", "y": "independent", "size": "independent"}},
  "config": {"view": {"stroke": null}}
}
